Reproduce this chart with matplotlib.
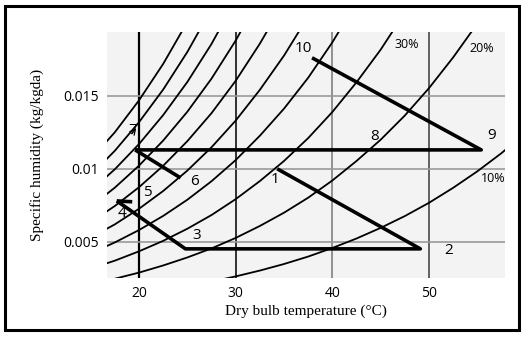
import matplotlib
matplotlib.use("Agg")
import matplotlib.pyplot as plt
from matplotlib.patches import Rectangle

# ---- data ----
temps = [15, 17.5, 20, 22.5, 25, 27.5, 30, 32.5, 35, 37.5, 40, 42.5, 45, 47.5, 50, 52.5, 55, 57.5, 60]
# specific humidity (kg/kgda) along relative-humidity curves
rh_curves = {
    "100%": [0.01065, 0.01251, 0.01470, 0.01720, 0.02008],
    "90%": [0.00956, 0.01124, 0.01320, 0.01544, 0.01802, 0.02097],
    "80%": [0.00849, 0.00997, 0.01170, 0.01369, 0.01596, 0.01857, 0.02158],
    "70%": [0.00741, 0.00871, 0.01022, 0.01194, 0.01392, 0.01619, 0.01880, 0.02180],
    "60%": [0.00634, 0.00745, 0.00874, 0.01021, 0.01190, 0.01382, 0.01604, 0.01859, 0.02144],
    "50%": [0.00528, 0.00619, 0.00726, 0.00848, 0.00988, 0.01148, 0.01331, 0.01542, 0.01777, 0.02045],
    "40%": [0.00421, 0.00495, 0.00580, 0.00677, 0.00788, 0.00915, 0.01060, 0.01227, 0.01413, 0.01625,
            0.01868, 0.02143],
    "30%": [0.00316, 0.00370, 0.00434, 0.00506, 0.00589, 0.00683, 0.00792, 0.00916, 0.01054, 0.01211,
            0.01390, 0.01594, 0.01818, 0.02072],
    "20%": [0.00210, 0.00246, 0.00288, 0.00337, 0.00392, 0.00454, 0.00526, 0.00608, 0.00699, 0.00802,
            0.00920, 0.01054, 0.01200, 0.01366, 0.01554, 0.01765, 0.01997],
    "10%": [None, None, None, None, 0.00195, 0.00226, 0.00262, 0.00302, 0.00347, 0.00398, 0.00457,
            0.00522, 0.00595, 0.00676, 0.00767, 0.00870, 0.00983, 0.01108, 0.01249],
}

# process states (dry bulb °C, specific humidity)
state_T = {"1": 34.3, "2": 49.1, "3": 24.8, "4": 17.7, "4b": 19.3, "6": 24.3, "7": 19.6, "9": 55.4, "10": 37.9}
state_w = {"1": 0.0100, "2": 0.00451, "3": 0.00451, "4": 0.0078, "4b": 0.00774, "6": 0.00938,
           "7": 0.0113, "9": 0.0113, "10": 0.01762}
paths = [["1", "2", "3", "4"], ["4", "4b"], ["7", "6"], ["7", "9", "10"]]

# label positions
point_labels = ["1", "2", "3", "4", "5", "6", "7", "8", "9", "10"]
label_T = [34.07, 52.07, 26.0, 18.24, 20.83, 25.79, 19.38, 44.41, 56.52, 36.96]
label_w = [0.00925, 0.00437, 0.0054, 0.00691, 0.00835, 0.00911, 0.01261, 0.0122, 0.01226, 0.01824]
rh_labels = ["30%", "20%", "10%"]
rh_label_T = [47.72, 55.48, 56.62]
rh_label_w = [0.01851, 0.01824, 0.00931]

xticks = [20, 30, 40, 50]
yticks = [0.005, 0.01, 0.015]
ytick_labels = ["0.005", "0.01", "0.015"]

# ---- figure ----
fig = plt.figure(figsize=(5.25, 3.37), dpi=100)
fig.patch.set_facecolor("white")
fig.add_artist(Rectangle((5 / 525, 1 - 330 / 337), 514 / 525, 324 / 337, transform=fig.transFigure,
                         fill=False, edgecolor="black", linewidth=2.2))

ax = fig.add_axes([107 / 525, 1 - 278 / 337, 398 / 525, 246 / 337])
ax.set_facecolor("#f3f3f3")
ax.set_xlim(16.69, 57.86)
ax.set_ylim(0.00251, 0.01939)
for s in ax.spines.values():
    s.set_visible(False)

# grid
vcolors = {20: "#000000", 30: "#222222", 40: "#808080", 50: "#555555"}
vwidths = {20: 1.6, 30: 1.3, 40: 1.2, 50: 1.3}
for xv in xticks:
    ax.axvline(xv, color=vcolors[xv], lw=vwidths[xv], zorder=1)
for yv in yticks:
    ax.axhline(yv, color="#999999", lw=1.2, zorder=1)

# RH curves
for name, ws in rh_curves.items():
    pts = [(t, w) for t, w in zip(temps, ws) if w is not None]
    ax.plot([p[0] for p in pts], [p[1] for p in pts], color="black", lw=1.3, zorder=2)

# process lines
for p in paths:
    ax.plot([state_T[k] for k in p], [state_w[k] for k in p], color="black", lw=2.6,
            solid_capstyle="butt", zorder=3)

# small arrow near 7
ax.annotate("", xy=(19.9, 0.01295), xytext=(19.07, 0.01226),
            arrowprops=dict(arrowstyle="->", color="black", lw=0.9), zorder=3)

for lab, t, w in zip(point_labels, label_T, label_w):
    ax.text(t, w, lab, fontsize=11, family="Open Sans", ha="center", va="center", zorder=4)
for lab, t, w in zip(rh_labels, rh_label_T, rh_label_w):
    ax.text(t, w, lab, fontsize=9, family="Open Sans", ha="center", va="center", zorder=4)

ax.set_xticks(xticks)
ax.set_xticklabels([str(v) for v in xticks], family="Open Sans", fontsize=10)
ax.set_yticks(yticks)
ax.set_yticklabels(ytick_labels, family="Open Sans", fontsize=10)
ax.tick_params(length=0, pad=6)

ax.set_xlabel("Dry bulb temperature (°C)", family="Liberation Serif", fontsize=11, labelpad=2)
ax.set_ylabel("Specific humidity (kg/kgda)", family="Liberation Serif", fontsize=11, labelpad=14)

fig.savefig("out.png", dpi=100)
